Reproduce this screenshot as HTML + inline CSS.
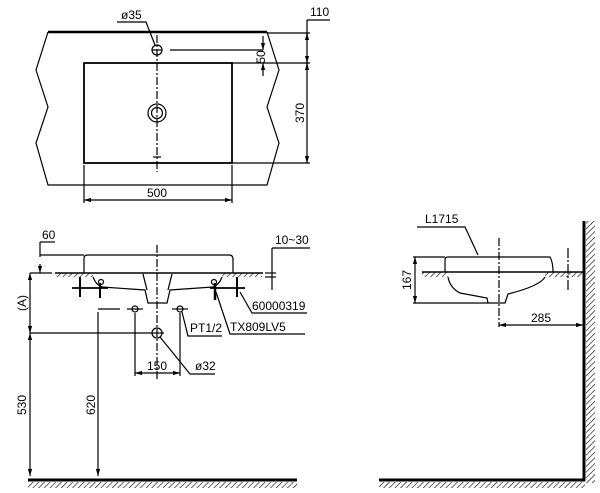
<!DOCTYPE html>
<html><head><style>html,body{margin:0;padding:0;background:#fff}svg{display:block}text{font-family:"Liberation Sans",sans-serif;font-size:12px;fill:#000}</style></head>
<body>
<svg width="600" height="493" viewBox="0 0 600 493" xmlns="http://www.w3.org/2000/svg">
<defs>
<pattern id="h" width="4" height="4" patternUnits="userSpaceOnUse" patternTransform="rotate(45)"><line x1="0" y1="0" x2="0" y2="4" stroke="#000" stroke-width="1.2"/></pattern>
<marker id="a" viewBox="0 0 10 10" refX="10" refY="5" markerWidth="6" markerHeight="6" orient="auto-start-reverse"><path d="M0,2L10,5L0,8z" fill="#000"/></marker>
</defs>
<g fill="none" stroke="#000" stroke-width="1.2">
<!-- top view -->
<line x1="48" y1="32" x2="267" y2="32" stroke-width="2.5"/>
<polyline points="48,32 36,70 48,107 36,143 48,185 267,185 279,143 267,107 279,70 267,32"/>
<rect x="84" y="63" width="148" height="100" stroke-width="1.8"/>
<circle cx="157" cy="50" r="5"/>
<circle cx="157" cy="113" r="9"/><circle cx="157" cy="113" r="5.5"/>
<line x1="157" y1="35" x2="157" y2="172" stroke-dasharray="8,2,2,2"/>
<line x1="152" y1="50" x2="162" y2="50"/><line x1="153" y1="157" x2="161" y2="157"/>
<line x1="170" y1="50" x2="263" y2="50"/>
<line x1="263" y1="36" x2="263" y2="50" marker-end="url(#a)"/>
<line x1="263" y1="76" x2="263" y2="63" marker-end="url(#a)"/>
<line x1="267" y1="33" x2="310" y2="33"/><line x1="232" y1="63" x2="310" y2="63"/><line x1="232" y1="163" x2="310" y2="163"/>
<line x1="307" y1="20" x2="307" y2="163"/><line x1="307" y1="20" x2="330" y2="20"/>
<line x1="307" y1="40" x2="307" y2="33" marker-end="url(#a)"/><line x1="307" y1="56" x2="307" y2="63" marker-end="url(#a)"/>
<line x1="307" y1="70" x2="307" y2="63" marker-end="url(#a)"/><line x1="307" y1="156" x2="307" y2="163" marker-end="url(#a)"/>
<line x1="84" y1="165" x2="84" y2="203"/><line x1="232" y1="165" x2="232" y2="203"/>
<line x1="84" y1="200" x2="232" y2="200" marker-start="url(#a)" marker-end="url(#a)"/>
<polyline points="117,22 146,22 155,45"/>
<!-- front view -->
<path d="M84,273 L84,258 Q84,255 88,255 L229,255 Q233,255 233,259 L233,273"/>
<line x1="55" y1="273" x2="263" y2="273" stroke-width="1.6"/>
<rect x="55" y="273" width="38" height="4" fill="url(#h)" stroke="none"/>
<rect x="222" y="273" width="40" height="4" fill="url(#h)" stroke="none"/>
<path d="M93,277 Q96,285 102,287 L145,290 L148,303 L167,303 L170,290 L213,287 Q219,285 222,277"/>
<line x1="143" y1="274" x2="147" y2="290"/><line x1="172" y1="274" x2="168" y2="290"/>
<line x1="72" y1="288" x2="108" y2="288" stroke-width="1.8"/><line x1="210" y1="288" x2="245" y2="288" stroke-width="1.8"/>
<line x1="80" y1="277" x2="80" y2="297" stroke-width="2"/><line x1="100" y1="283" x2="100" y2="298" stroke-width="2"/>
<line x1="215" y1="283" x2="215" y2="300" stroke-width="2.5"/><line x1="237" y1="277" x2="237" y2="297" stroke-width="2"/>
<circle cx="101" cy="282" r="2.5"/><circle cx="214" cy="282" r="2.5"/>
<line x1="157" y1="245" x2="157" y2="380" stroke-dasharray="8,2,2,2"/>
<circle cx="135" cy="309" r="3"/><circle cx="180" cy="309" r="3"/>
<line x1="127" y1="309" x2="143" y2="309"/><line x1="172" y1="309" x2="188" y2="309"/>
<circle cx="157" cy="333" r="5"/><line x1="150" y1="333" x2="164" y2="333"/>
<line x1="98" y1="309" x2="120" y2="309"/>
<line x1="98" y1="312" x2="98" y2="476" marker-end="url(#a)"/>
<line x1="30" y1="273" x2="52" y2="273"/>
<line x1="30" y1="333" x2="150" y2="333"/>
<line x1="30" y1="273" x2="30" y2="333" marker-start="url(#a)" marker-end="url(#a)"/>
<line x1="30" y1="333" x2="30" y2="476" marker-start="url(#a)" marker-end="url(#a)"/>
<line x1="135" y1="313" x2="135" y2="376"/><line x1="180" y1="313" x2="180" y2="376"/>
<line x1="135" y1="373" x2="180" y2="373" marker-start="url(#a)" marker-end="url(#a)"/>
<polyline points="40,242 55,242"/><line x1="40" y1="242" x2="40" y2="257"/>
<line x1="40" y1="255" x2="84" y2="255"/>
<line x1="40" y1="264" x2="40" y2="273" marker-end="url(#a)"/>
<line x1="272" y1="248" x2="310" y2="248"/><line x1="272" y1="248" x2="272" y2="290"/>
<line x1="265" y1="273" x2="276" y2="273"/><line x1="265" y1="277" x2="276" y2="277"/>
<polyline points="182,312 188,336 222,336"/>
<polyline points="160,337 190,374 215,374"/>
<polyline points="216,292 230,334 305,334"/>
<polyline points="240,292 252,313 307,313"/>
<!-- side view -->
<path d="M445,272 L445,260 Q445,257 448,257 L550,257 Q553,262 553,272"/>
<line x1="422" y1="272" x2="583" y2="272" stroke-width="1.6"/>
<rect x="422" y="272" width="26" height="5" fill="url(#h)" stroke="none"/>
<rect x="545" y="272" width="38" height="5" fill="url(#h)" stroke="none"/>
<path d="M448,277 Q450,288 460,293 L487,298 L488,303 L505,303 L508,294 Q540,286 545,277"/>
<line x1="499" y1="238" x2="499" y2="327" stroke-dasharray="8,2,2,2"/>
<line x1="568" y1="248" x2="568" y2="290" stroke-dasharray="10,2,2,2"/>
<line x1="413" y1="257" x2="445" y2="257"/><line x1="413" y1="303" x2="488" y2="303"/>
<line x1="415" y1="257" x2="415" y2="303" marker-start="url(#a)" marker-end="url(#a)"/>
<line x1="499" y1="325" x2="583" y2="325" marker-start="url(#a)" marker-end="url(#a)"/>
<polyline points="417,227 465,227 478,255"/>
<!-- floors/wall -->
<line x1="28" y1="480" x2="297" y2="480" stroke-width="3"/>
<line x1="379" y1="480" x2="585" y2="480" stroke-width="3"/>
<line x1="584" y1="221" x2="584" y2="481" stroke-width="3"/>
</g>
<rect x="28" y="482" width="269" height="6" fill="url(#h)"/>
<rect x="379" y="482" width="206" height="6" fill="url(#h)"/>
<rect x="586" y="221" width="9" height="262" fill="url(#h)"/>
<text x="121" y="19">ø35</text>
<text x="310" y="16">110</text>
<text x="0" y="0" transform="translate(265,57) rotate(-90)" text-anchor="middle">50</text>
<text x="0" y="0" transform="translate(304,113) rotate(-90)" text-anchor="middle">370</text>
<text x="157" y="197" text-anchor="middle">500</text>
<text x="42" y="239">60</text>
<text x="275" y="244">10~30</text>
<text x="252" y="310">60000319</text>
<text x="230" y="331">TX809LV5</text>
<text x="190" y="332">PT1/2</text>
<text x="195" y="370">ø32</text>
<text x="157" y="370" text-anchor="middle">150</text>
<text x="0" y="0" transform="translate(26,303) rotate(-90)" text-anchor="middle">(A)</text>
<text x="0" y="0" transform="translate(26,405) rotate(-90)" text-anchor="middle">530</text>
<text x="0" y="0" transform="translate(95,405) rotate(-90)" text-anchor="middle">620</text>
<text x="425" y="223">L1715</text>
<text x="0" y="0" transform="translate(411,280) rotate(-90)" text-anchor="middle">167</text>
<text x="541" y="322" text-anchor="middle">285</text>
</svg>
</body></html>
